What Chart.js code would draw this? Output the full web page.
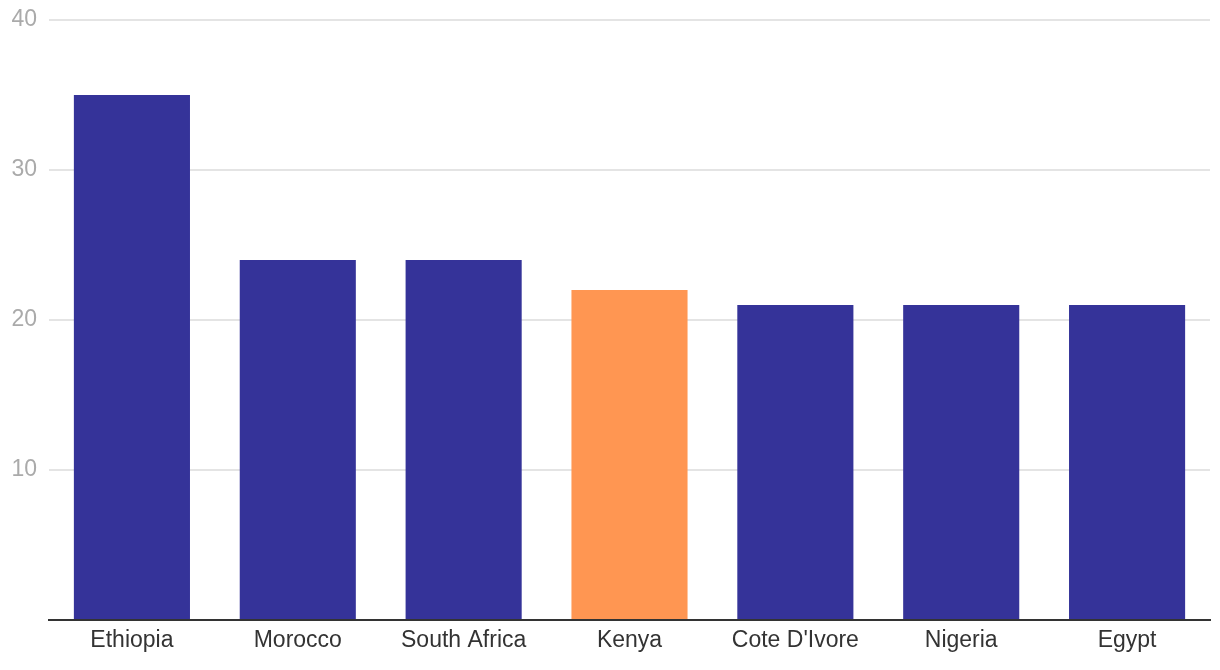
<!DOCTYPE html>
<html>
<head>
<meta charset="utf-8">
<script src="https://cdn.jsdelivr.net/npm/chart.js@4/dist/chart.umd.min.js"></script>
<style>
  html, body { margin: 0; padding: 0; background: #fff; }
  #wrap { width: 1220px; height: 670px; }
</style>
</head>
<body>
<div id="wrap"><canvas id="chart" width="1220" height="670"></canvas></div>
<script>
const countries = ["Ethiopia", "Morocco", "South Africa", "Kenya", "Cote D'Ivore", "Nigeria", "Egypt"];
const values = [35, 24, 24, 22, 21, 21, 21];
const highlight = "Kenya";
const yTicks = [0, 10, 20, 30, 40];

const barColors = countries.map(c => c === highlight ? "#ff9652" : "#353399");
const font = "'Liberation Sans', Arial, Helvetica, sans-serif";

const ctx = document.getElementById("chart").getContext("2d");
new Chart(ctx, {
  type: "bar",
  data: {
    labels: countries,
    datasets: [{
      data: values,
      backgroundColor: barColors,
      borderWidth: 0,
      barPercentage: 0.7,
      categoryPercentage: 1.0
    }]
  },
  options: {
    responsive: false,
    animation: false,
    layout: { padding: { left: 0, right: 10, top: 0, bottom: 0 } },
    plugins: { legend: { display: false }, tooltip: { enabled: false } },
    scales: {
      x: {
        grid: { display: false, drawTicks: false },
        border: { display: true, color: "#333", width: 2, z: 1 },
        ticks: { color: "#333", font: { family: font, size: 23 }, padding: 7, maxRotation: 0 },
        afterFit: s => { s.height = 50; }
      },
      y: {
        min: yTicks[0],
        max: yTicks[yTicks.length - 1],
        afterBuildTicks: s => { s.ticks = yTicks.map(v => ({ value: v })); },
        grid: { color: "#e4e4e4", lineWidth: 2, drawTicks: false },
        border: { display: false },
        ticks: {
          color: "#aaa",
          font: { family: font, size: 23 },
          padding: 12,
          callback: v => v === 0 ? "" : v
        },
        afterFit: s => { s.width = 49; s.paddingTop = 20; s.paddingBottom = 0; }
      }
    }
  }
});
</script>
</body>
</html>
